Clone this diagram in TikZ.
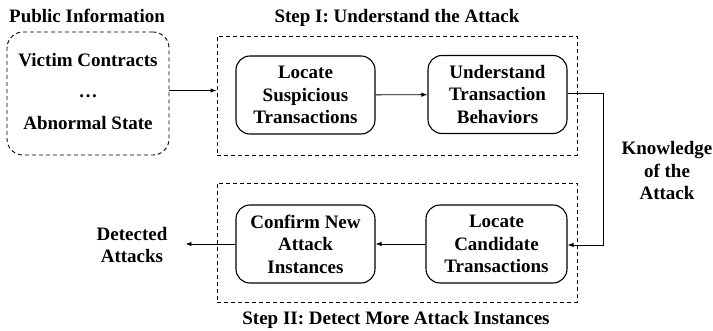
\documentclass[tikz,border=0pt]{standalone}
\usepackage{fontspec}
\setmainfont{Liberation Serif}
\usetikzlibrary{arrows.meta}
\begin{document}
\begin{tikzpicture}[x=1pt,y=-1pt,
 txt/.style={font=\bfseries\fontsize{19}{22.5}\selectfont, align=center, inner sep=0pt},
 proc/.style={txt, draw, rounded corners=14pt, line width=1.1pt, minimum width=139pt, minimum height=78pt},
 grp/.style={draw, dash pattern=on 4pt off 3pt, line width=0.9pt, minimum width=360pt, minimum height=119pt},
 arr/.style={-{Latex[length=6pt,width=4.5pt]}, line width=0.9pt}]
\useasboundingbox (0,0) rectangle (713,331);
% groups
\node[grp, rounded corners=16pt, minimum width=162pt, minimum height=123pt] (pub) at (88,93.5) {};
\node[grp] (g1) at (397,95.5) {};
\node[grp] (g2) at (397,242.5) {};
% titles
\node[txt, anchor=base] (pubt) at (87,23) {Public Information};
\node[txt, anchor=base] (g1t) at (397,23) {Step I: Understand the Attack};
\node[txt, anchor=base] (g2t) at (396,325) {Step II: Detect More Attack Instances};
% public info contents
\node[txt, anchor=base] (vc) at (88,67) {Victim Contracts};
\node[txt, anchor=base] (dots) at (88,98) {\textbf{\dots}};
\node[txt, anchor=base] (as) at (88,130) {Abnormal State};
% process boxes
\node[proc] (ls) at (305.5,95) {Locate\\Suspicious\\Transactions};
\node[proc] (ut) at (497.5,94.5) {Understand\\Transaction\\Behaviors};
\node[proc] (cf) at (305.5,244) {Confirm New\\Attack\\Instances};
\node[proc, minimum width=141pt] (lc) at (496.5,244) {Locate\\Candidate\\Transactions};
% side labels
\node[txt] (kn) at (667,171) {Knowledge\\of the\\Attack};
\node[txt] (da) at (132,245) {Detected\\Attacks};
% connectors
\draw[arr] ([yshift=3pt]pub.east) -- ([yshift=3pt]pub.east -| g1.west);
\draw[arr] (ls) -- (ut);
\draw[arr] ([yshift=1.5pt]ut.east) -- ++(36,0) |- ([yshift=-1pt]lc.east);
\draw[arr] (lc) -- (cf);
\draw[arr] (cf.west) -- ++(-50,0);
\end{tikzpicture}
\end{document}
